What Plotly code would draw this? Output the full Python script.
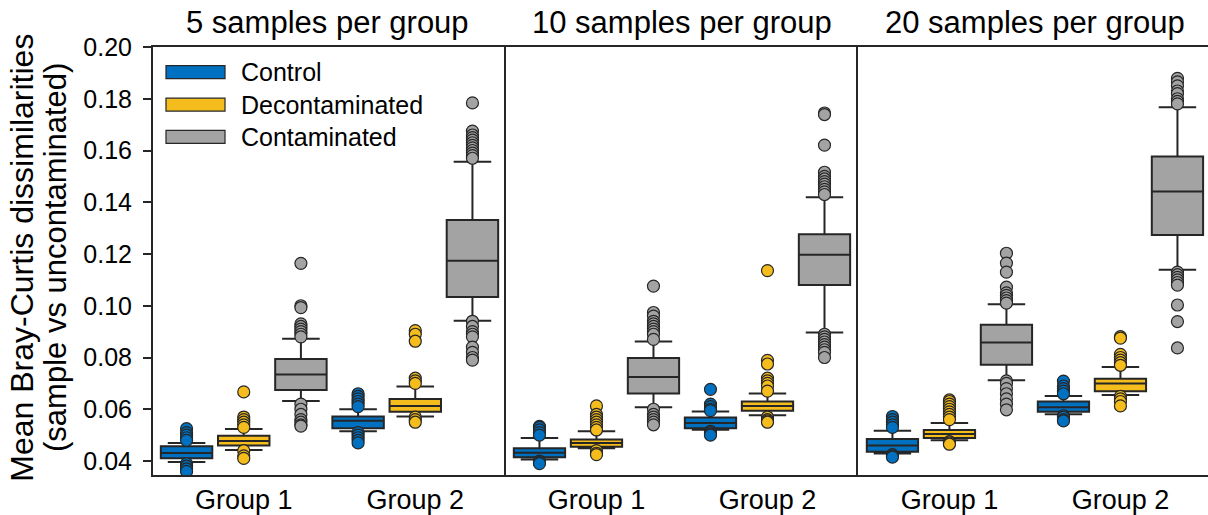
import plotly.graph_objects as go

# Panels (sample sizes) and groups
panel_titles = ["5 samples per group", "10 samples per group", "20 samples per group"]
group_labels = ["Group 1", "Group 2"]
series_names = ["Control", "Decontaminated", "Contaminated"]
series_colors = ["#0070C0", "#F5BC1E", "#A3A3A3"]

# Box statistics, ordered: panel1 G1, panel1 G2, panel2 G1, panel2 G2, panel3 G1, panel3 G2
control_q1 = [0.0411, 0.0527, 0.0415, 0.0527, 0.0436, 0.0590]
control_med = [0.0431, 0.0556, 0.0432, 0.0547, 0.0460, 0.0608]
control_q3 = [0.0457, 0.0572, 0.0449, 0.0568, 0.0485, 0.0630]
control_lo = [0.0396, 0.0515, 0.0406, 0.0521, 0.0429, 0.0581]
control_hi = [0.0470, 0.0600, 0.0489, 0.0591, 0.0517, 0.0651]

decon_q1 = [0.0460, 0.0590, 0.0455, 0.0594, 0.0489, 0.0670]
decon_med = [0.0477, 0.0613, 0.0470, 0.0613, 0.0504, 0.0700]
decon_q3 = [0.0498, 0.0640, 0.0483, 0.0630, 0.0520, 0.0718]
decon_lo = [0.0443, 0.0572, 0.0449, 0.0577, 0.0480, 0.0655]
decon_hi = [0.0524, 0.0688, 0.0515, 0.0661, 0.0547, 0.0763]

contam_q1 = [0.0674, 0.1034, 0.0661, 0.1080, 0.0772, 0.1273]
contam_med = [0.0734, 0.1174, 0.0725, 0.1197, 0.0858, 0.1442]
contam_q3 = [0.0794, 0.1331, 0.0798, 0.1276, 0.0927, 0.1577]
contam_lo = [0.0632, 0.0942, 0.0608, 0.0897, 0.0712, 0.1139]
contam_hi = [0.0873, 0.1557, 0.0862, 0.1419, 0.1006, 0.1767]

# Outlying values, same ordering as the statistics
control_out = [
    [0.0525, 0.051, 0.050, 0.049, 0.048, 0.039, 0.038, 0.037, 0.036],
    [0.066, 0.065, 0.064, 0.063, 0.062, 0.061, 0.051, 0.050, 0.049, 0.048, 0.047],
    [0.0534, 0.053, 0.052, 0.051, 0.050, 0.040, 0.0395, 0.039],
    [0.0677, 0.062, 0.061, 0.060, 0.0595, 0.0515, 0.051, 0.0505, 0.050],
    [0.0572, 0.056, 0.055, 0.054, 0.053, 0.0425, 0.042, 0.0415],
    [0.0709, 0.069, 0.068, 0.067, 0.066, 0.0575, 0.057, 0.056, 0.0555],
]
decon_out = [
    [0.0667, 0.057, 0.056, 0.055, 0.054, 0.053, 0.044, 0.042, 0.041],
    [0.0904, 0.089, 0.0863, 0.072, 0.071, 0.070, 0.057, 0.056, 0.055],
    [0.0613, 0.058, 0.057, 0.056, 0.055, 0.054, 0.053, 0.052, 0.044, 0.043, 0.0425],
    [0.1136, 0.0789, 0.0775, 0.072, 0.071, 0.070, 0.069, 0.067, 0.057, 0.056, 0.0555, 0.055],
    [0.0636, 0.063, 0.062, 0.061, 0.060, 0.059, 0.058, 0.057, 0.056, 0.0475, 0.047, 0.0465],
    [0.0881, 0.0875, 0.0812, 0.080, 0.079, 0.078, 0.077, 0.065, 0.064, 0.063, 0.0613],
]
contam_out = [
    [0.1164, 0.1, 0.0993, 0.093, 0.092, 0.091, 0.090, 0.089, 0.088,
     0.062, 0.060, 0.058, 0.056, 0.055, 0.054, 0.0535],
    [0.1784, 0.1675, 0.166, 0.165, 0.164, 0.163, 0.162, 0.161, 0.160, 0.159, 0.158, 0.157,
     0.094, 0.092, 0.090, 0.089, 0.088, 0.084, 0.082, 0.080, 0.079],
    [0.1076, 0.0974, 0.096, 0.094, 0.093, 0.092, 0.091, 0.090, 0.089, 0.087,
     0.060, 0.058, 0.057, 0.056, 0.055, 0.054],
    [0.1745, 0.1739, 0.1621, 0.1516, 0.150, 0.149, 0.148, 0.147, 0.146, 0.145, 0.144, 0.143,
     0.089, 0.088, 0.087, 0.086, 0.085, 0.084, 0.083, 0.082, 0.080],
    [0.1203, 0.1165, 0.113, 0.1072, 0.105, 0.104, 0.103, 0.102, 0.101,
     0.071, 0.070, 0.068, 0.066, 0.064, 0.062, 0.0598],
    [0.1879, 0.1865, 0.185, 0.183, 0.182, 0.180, 0.179, 0.178,
     0.113, 0.112, 0.111, 0.110, 0.109, 0.108, 0.1003, 0.0939, 0.0837],
]

y_ticks = [0.04, 0.06, 0.08, 0.10, 0.12, 0.14, 0.16, 0.18, 0.20]

stats = [
    (control_q1, control_med, control_q3, control_lo, control_hi, control_out),
    (decon_q1, decon_med, decon_q3, decon_lo, decon_hi, decon_out),
    (contam_q1, contam_med, contam_q3, contam_lo, contam_hi, contam_out),
]

FONT = "Liberation Sans, Arial, sans-serif"
EDGE = "#262626"
offsets = [-1 / 3, 0.0, 1 / 3]
group_pos = [1, 2]

fig = go.Figure()

# outliers
for p in range(3):
    xa = "x" if p == 0 else f"x{p + 1}"
    ya = "y" if p == 0 else f"y{p + 1}"
    for s, (q1, med, q3, lo, hi, outs) in enumerate(stats):
        xs, ys = [], []
        for g in range(2):
            vals = outs[2 * p + g]
            xs += [group_pos[g] + offsets[s]] * len(vals)
            ys += vals
        fig.add_trace(go.Scatter(
            x=xs, y=ys, mode="markers", xaxis=xa, yaxis=ya, showlegend=False,
            marker=dict(size=12, color=series_colors[s], line=dict(width=1.2, color=EDGE)),
        ))

# boxes
for p in range(3):
    xa = "x" if p == 0 else f"x{p + 1}"
    ya = "y" if p == 0 else f"y{p + 1}"
    for s, (q1, med, q3, lo, hi, outs) in enumerate(stats):
        sl = slice(2 * p, 2 * p + 2)
        fig.add_trace(go.Box(
            x=[g + offsets[s] for g in group_pos],
            q1=q1[sl], median=med[sl], q3=q3[sl],
            lowerfence=lo[sl], upperfence=hi[sl],
            boxpoints=False, width=0.30, whiskerwidth=0.73,
            fillcolor=series_colors[s], line=dict(color=EDGE, width=2),
            xaxis=xa, yaxis=ya, name=series_names[s], showlegend=False,
        ))

# panel layout
domains = [[0.0, 0.3346], [0.3346, 0.6682], [0.6682, 1.0]]
xranges = [[0.471, 2.529], [0.471, 2.529], [0.465, 2.512]]
layout = dict(
    width=1208, height=515,
    margin=dict(l=153, r=0, t=47, b=37),
    paper_bgcolor="white", plot_bgcolor="white",
    boxmode="overlay", showlegend=False,
    font=dict(family=FONT, color="black"),
)
for p in range(3):
    k = "" if p == 0 else str(p + 1)
    layout[f"xaxis{k}"] = dict(
        domain=domains[p], range=xranges[p], anchor=f"y{k}",
        tickvals=group_pos, ticktext=group_labels, ticks="",
        tickfont=dict(size=27, family=FONT, color="black"),
        ticklabelstandoff=0,
        showline=True, mirror=True, linecolor=EDGE, linewidth=2,
        showgrid=False, zeroline=False,
    )
    layout[f"yaxis{k}"] = dict(
        range=[0.0346, 0.2], anchor=f"x{k}",
        tickvals=y_ticks, tickformat=".2f",
        ticks="outside" if p == 0 else "", ticklen=8, tickwidth=1.5, tickcolor=EDGE,
        showticklabels=(p == 0), ticklabelstandoff=6,
        tickfont=dict(size=25, family=FONT, color="black"),
        showline=True, mirror=False, linecolor=EDGE, linewidth=2,
        showgrid=False, zeroline=False,
    )
fig.update_layout(**layout)

# panel titles
title_centers = [0.495, 0.5, 0.507]
for p in range(3):
    k = "" if p == 0 else str(p + 1)
    fig.add_annotation(
        text=panel_titles[p], xref=f"x{k} domain", yref="paper",
        x=title_centers[p], y=1.0, yanchor="bottom", yshift=5, showarrow=False,
        font=dict(size=31, family=FONT, color="black"),
    )

# y-axis title (two lines)
fig.add_annotation(
    text="Mean Bray-Curtis dissimilarities", xref="paper", yref="paper",
    x=-0.1250, y=0.508, textangle=-90, showarrow=False,
    xanchor="center", yanchor="middle",
    font=dict(size=32, family=FONT, color="black"),
)
fig.add_annotation(
    text="(sample vs uncontaminated)", xref="paper", yref="paper",
    x=-0.0925, y=0.508, textangle=-90, showarrow=False,
    xanchor="center", yanchor="middle",
    font=dict(size=31, family=FONT, color="black"),
)

# legend swatches and labels
legend_y = [0.9413, 0.8654, 0.790]
for s in range(3):
    fig.add_shape(
        type="rect", xref="x domain", yref="y domain",
        x0=0.0368, x1=0.204, y0=legend_y[s] - 0.0151, y1=legend_y[s] + 0.0151,
        fillcolor=series_colors[s], line=dict(color=EDGE, width=1.2),
    )
    fig.add_annotation(
        text=series_names[s], xref="x domain", yref="y domain",
        x=0.2436, y=legend_y[s], xanchor="left", yanchor="middle", showarrow=False,
        font=dict(size=25, family=FONT, color="black"),
    )

fig.write_html("out.html")
